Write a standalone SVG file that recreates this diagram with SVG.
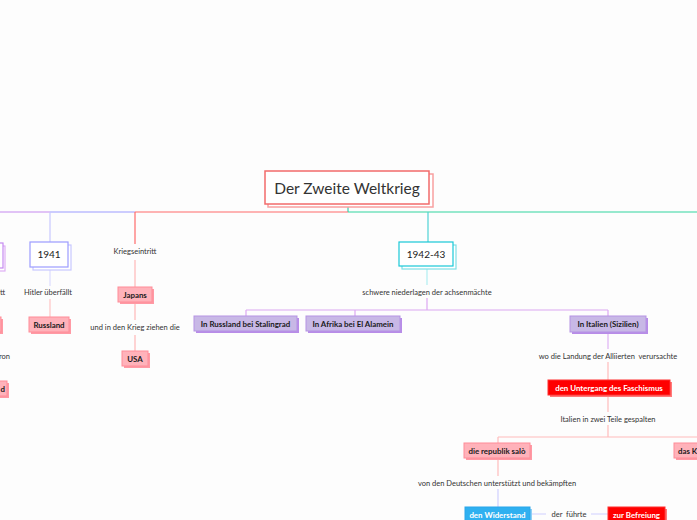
<svg xmlns="http://www.w3.org/2000/svg" width="697" height="520" viewBox="0 0 697 520">
<style>
text{font-family:Lato,"Noto Sans","Liberation Sans",sans-serif;}
.lbl{font-size:7.5px;fill:#333;text-anchor:middle;white-space:pre;}
.nb{font-size:7.9px;font-weight:bold;text-anchor:middle;}
.dark{fill:#1a1a1a;}
.white{fill:#fff;}
.pink{fill:#ffb2ba;stroke:#ff8c98;stroke-width:1;}
.pinks{fill:#ff9aa5;}
.purp{fill:#c8b8e6;stroke:#b593e4;stroke-width:1;}
.purps{fill:#b88ce8;}
.red{fill:#ff0000;stroke:#ff3030;stroke-width:1;}
.reds{fill:#ff7a7a;}
.blue{fill:#2fb0f0;stroke:#2aa6ea;stroke-width:1;}
.blues{fill:#8fcff6;}
.c{fill:none;stroke-width:1.2;}
</style>
<rect width="697" height="520" fill="#fdfdfd"/>
<g id="connectors">
<path class="c" d="M348 204V212" stroke="#3dcfb0"/>
<path class="c" d="M0 212H50" stroke="#c58af0"/>
<path class="c" d="M50 212H135" stroke="#9c9cff"/>
<path class="c" d="M135 212H348" stroke="#ff6b6b"/>
<path class="c" d="M348 212H697" stroke="#33d69f"/>
<path class="c" d="M50 212V242" stroke="#c8c8ff"/>
<path class="c" d="M135 212V244" stroke="#ff6b6b"/>
<path class="c" d="M428 212V242" stroke="#4fd3d6"/>
<path class="c" d="M50 267V286" stroke="#dcdcff"/>
<path class="c" d="M50 299V317" stroke="#ffc4c4"/>
<path class="c" d="M135 260V287M135 302V320M135 335V351" stroke="#ffb8b8"/>
<path class="c" d="M427 266V285" stroke="#b0eef2"/>
<path class="c" d="M427 298V310M246 310H608M246 310V316M355 310V316M608 310V316" stroke="#dca8f2"/>
<path class="c" d="M608 332V349" stroke="#e0b3f5"/>
<path class="c" d="M608 362V380M608 395V412M608 425V437M498 437H697M498 437V443M498 458V476" stroke="#ffbcbc"/>
<path class="c" d="M498 489V507M530 514H546M591 514H608" stroke="#d0d0ff"/>
</g>
<g id="root">
<rect x="268" y="174" width="165" height="33" fill="#fff" stroke="#f8a0a0" stroke-width="1.5"/>
<rect x="265" y="171" width="164" height="33" fill="#fff" stroke="#f26b6b" stroke-width="1.5"/>
<text x="347" y="193.5" font-size="15.5" fill="#333" text-anchor="middle">Der Zweite Weltkrieg</text>
</g>
<g id="left-purple">
<rect x="-37" y="246" width="42" height="25" fill="#fff" stroke="#e0b0f5" stroke-width="1.2"/>
<rect x="-40" y="243" width="43" height="25" fill="#fff" stroke="#c58af0" stroke-width="1.2"/>
</g>
<g id="left-texts">
<text class="lbl" x="5" y="295" style="text-anchor:end">tt</text>
<text class="lbl" x="10" y="359" style="text-anchor:end">ron</text>
</g>
<g id="left-pink1">
<rect class="pinks" x="-38" y="319" width="41" height="15"/>
<rect class="pink" x="-40" y="317" width="41" height="15"/>
</g>
<g id="left-pink2">
<rect class="pinks" x="-36" y="383" width="45" height="15"/>
<rect class="pink" x="-38" y="381" width="45" height="15"/>
<text class="nb dark" x="5" y="391.5" style="text-anchor:end">d</text>
</g>
<g id="n1941">
<rect x="33" y="245" width="38" height="25" fill="#fff" stroke="#c8c8ff" stroke-width="1.2"/>
<rect x="30" y="242" width="38" height="25" fill="#fff" stroke="#9c9cff" stroke-width="1.2"/>
<text x="49" y="258" font-size="10" fill="#222" text-anchor="middle">1941</text>
</g>
<g id="hitler"><text class="lbl" x="48" y="295">Hitler überfällt</text></g>
<g id="russland">
<rect class="pinks" x="31" y="319" width="40" height="15"/>
<rect class="pink" x="29" y="317" width="40" height="15"/>
<text class="nb dark" x="49" y="327.5">Russland</text>
</g>
<g id="kriegseintritt"><text class="lbl" x="135" y="254">Kriegseintritt</text></g>
<g id="japans">
<rect class="pinks" x="120" y="289" width="34" height="15"/>
<rect class="pink" x="118" y="287" width="34" height="15"/>
<text class="nb dark" x="135" y="297.5">Japans</text>
</g>
<g id="krieg"><text class="lbl" x="135" y="330">und in den Krieg ziehen die</text></g>
<g id="usa">
<rect class="pinks" x="124" y="353" width="26" height="15"/>
<rect class="pink" x="122" y="351" width="26" height="15"/>
<text class="nb dark" x="135" y="361.5">USA</text>
</g>
<g id="n1942">
<rect x="402" y="245" width="54" height="24" fill="#fff" stroke="#7fe0e6" stroke-width="1.2"/>
<rect x="399" y="242" width="54" height="24" fill="#fff" stroke="#19c9d8" stroke-width="1.2"/>
<text x="426" y="258" font-size="10" fill="#222" text-anchor="middle">1942-43</text>
</g>
<g id="schwere"><text class="lbl" x="427" y="294.5">schwere niederlagen der achsenmächte</text></g>
<g id="stalingrad">
<rect class="purps" x="196" y="318" width="103" height="15"/>
<rect class="purp" x="194" y="316" width="103" height="15"/>
<text class="nb dark" x="245.5" y="326.5">In Russland bei Stalingrad</text>
</g>
<g id="afrika">
<rect class="purps" x="308" y="318" width="94" height="15"/>
<rect class="purp" x="306" y="316" width="94" height="15"/>
<text class="nb dark" x="353" y="326.5">In Afrika bei El Alamein</text>
</g>
<g id="italien">
<rect class="purps" x="572" y="318" width="76" height="16"/>
<rect class="purp" x="570" y="316" width="76" height="16"/>
<text class="nb dark" x="608" y="327">In Italien (Sizilien)</text>
</g>
<g id="landung"><text class="lbl" x="608" y="358.5">wo die Landung der Alliierten  verursachte</text></g>
<g id="untergang">
<rect class="reds" x="550" y="382" width="122" height="15"/>
<rect class="red" x="548" y="380" width="122" height="15"/>
<text class="nb white" x="609" y="390.5">den Untergang des Faschismus</text>
</g>
<g id="gespalten"><text class="lbl" x="608" y="421.5">Italien in zwei Teile gespalten</text></g>
<g id="salo">
<rect class="pinks" x="466" y="445" width="66" height="15"/>
<rect class="pink" x="464" y="443" width="66" height="15"/>
<text class="nb dark" x="497" y="453.5">die republik salò</text>
</g>
<g id="dasK">
<rect class="pinks" x="676" y="445" width="60" height="15"/>
<rect class="pink" x="674" y="443" width="60" height="15"/>
<text class="nb dark" x="678" y="453.5" style="text-anchor:start">das K</text>
</g>
<g id="deutschen"><text class="lbl" x="497" y="485.5">von den Deutschen unterstützt und bekämpften</text></g>
<g id="widerstand">
<rect class="blues" x="467" y="509" width="65" height="15"/>
<rect class="blue" x="465" y="507" width="65" height="15"/>
<text class="nb white" x="497.5" y="517.5">den Widerstand</text>
</g>
<g id="fuehrte"><text class="lbl" x="569" y="517">der  führte</text></g>
<g id="befreiung">
<rect class="reds" x="610" y="509" width="57" height="15"/>
<rect class="red" x="608" y="507" width="57" height="15"/>
<text class="nb white" x="636.5" y="517.5">zur Befreiung</text>
</g>
</svg>
